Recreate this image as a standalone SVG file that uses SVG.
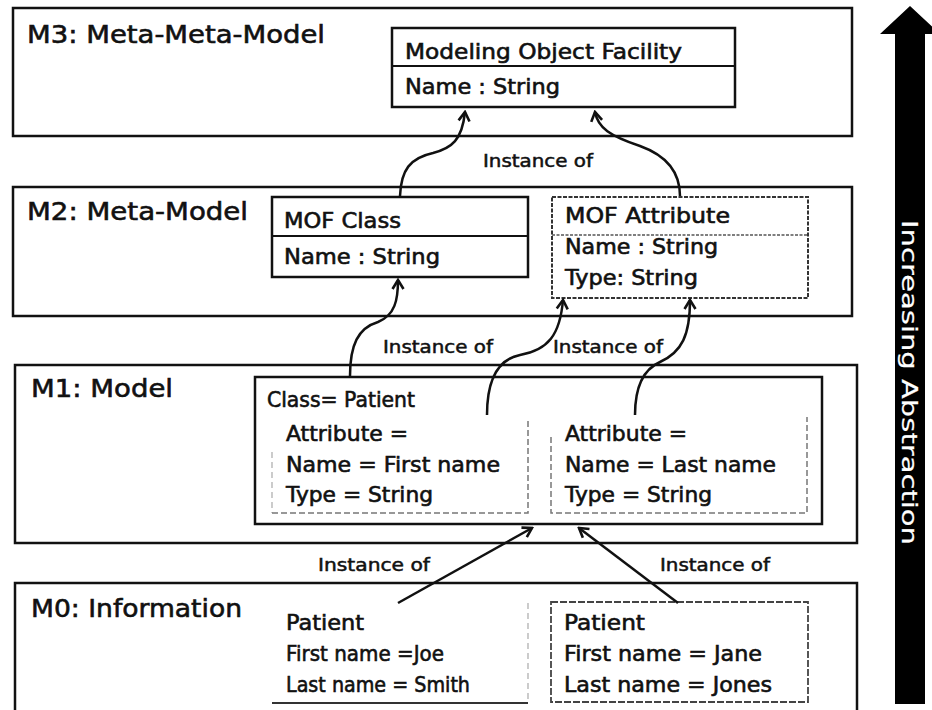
<svg xmlns="http://www.w3.org/2000/svg" width="932" height="710" viewBox="0 0 932 710">
<style>
  .layer{fill:none;stroke:#111;stroke-width:2.5}
  .box{fill:#fff;stroke:#111;stroke-width:2.5}
  .dbox{fill:#fff;stroke:#333;stroke-width:2;stroke-dasharray:4 1.5}
  .faint{fill:none;stroke:#777;stroke-width:1.5;stroke-dasharray:6 3}
  .fainter{fill:none;stroke:#aaa;stroke-width:1.2;stroke-dasharray:6 4}
  .conn{fill:none;stroke:#111;stroke-width:2.5}
  text{font-family:"DejaVu Sans","Liberation Sans",sans-serif;fill:#111;stroke:#111;stroke-width:0.6}
  .lbl{font-size:25px}
  .t{font-size:20.5px}
  .inst{font-size:17px;stroke-width:0.5}
  .side{font-size:22px;fill:#fff;stroke:#fff;stroke-width:0.2}
</style>
<defs>
  <marker id="ah" viewBox="-12 -8 14 16" refX="0" refY="0" markerWidth="14" markerHeight="16" markerUnits="userSpaceOnUse" orient="auto">
    <path d="M-9,-5.5 L0,0 L-9,5.5" fill="none" stroke="#111" stroke-width="2.6"/>
  </marker>
</defs>
<rect width="932" height="710" fill="#fff"/>

<g id="M3">
  <rect class="layer" x="13" y="8" width="839" height="128"/>
  <text class="lbl" x="27" y="43" textLength="298" lengthAdjust="spacingAndGlyphs">M3: Meta-Meta-Model</text>
</g>
<g id="MOF">
  <rect class="box" x="392" y="28" width="343" height="79"/>
  <line x1="392" y1="66" x2="735" y2="66" stroke="#111" stroke-width="2"/>
  <text class="t" x="405" y="59" textLength="277" lengthAdjust="spacingAndGlyphs">Modeling Object Facility</text>
  <text class="t" x="405" y="94" textLength="155" lengthAdjust="spacingAndGlyphs">Name : String</text>
</g>

<g id="M2">
  <rect class="layer" x="13" y="187" width="839" height="129"/>
  <text class="lbl" x="27" y="220" textLength="221" lengthAdjust="spacingAndGlyphs">M2: Meta-Model</text>
</g>
<g id="MOFClass">
  <rect class="box" x="272" y="197" width="256" height="80" stroke-width="3"/>
  <line x1="272" y1="236" x2="528" y2="236" stroke="#111" stroke-width="2"/>
  <text class="t" x="284" y="228" textLength="117" lengthAdjust="spacingAndGlyphs">MOF Class</text>
  <text class="t" x="284" y="264" textLength="156" lengthAdjust="spacingAndGlyphs">Name : String</text>
</g>
<g id="MOFAttribute">
  <rect class="dbox" x="552" y="197" width="256" height="101"/>
  <line x1="552" y1="235" x2="808" y2="235" stroke="#555" stroke-width="1.5" stroke-dasharray="3 1.5"/>
  <text class="t" x="565" y="223" textLength="165" lengthAdjust="spacingAndGlyphs">MOF Attribute</text>
  <text class="t" x="565" y="254" textLength="153" lengthAdjust="spacingAndGlyphs">Name : String</text>
  <text class="t" x="565" y="285" textLength="133" lengthAdjust="spacingAndGlyphs">Type: String</text>
</g>

<g id="M1">
  <rect class="layer" x="15" y="365" width="842" height="178"/>
  <text class="lbl" x="31" y="397" textLength="142" lengthAdjust="spacingAndGlyphs">M1: Model</text>
</g>
<g id="ClassPatient">
  <rect class="box" x="255" y="377" width="567" height="147" stroke-width="3"/>
  <text class="t" x="267" y="407" textLength="148" lengthAdjust="spacingAndGlyphs">Class= Patient</text>
  <polyline class="fainter" points="272,452 272,513"/>
  <polyline class="faint" points="272,513 528,513 528,418"/>
  <polyline class="faint" points="551,437 551,513 807,513 807,417"/>
  <text class="t" x="286" y="441" textLength="122" lengthAdjust="spacingAndGlyphs">Attribute =</text>
  <text class="t" x="286" y="472" textLength="214" lengthAdjust="spacingAndGlyphs">Name = First name</text>
  <text class="t" x="286" y="502" textLength="147" lengthAdjust="spacingAndGlyphs">Type = String</text>
  <text class="t" x="565" y="441" textLength="122" lengthAdjust="spacingAndGlyphs">Attribute =</text>
  <text class="t" x="565" y="472" textLength="211" lengthAdjust="spacingAndGlyphs">Name = Last name</text>
  <text class="t" x="565" y="502" textLength="147" lengthAdjust="spacingAndGlyphs">Type = String</text>
</g>

<g id="M0">
  <rect class="layer" x="15" y="583" width="842" height="135"/>
  <text class="lbl" x="31" y="617" textLength="211" lengthAdjust="spacingAndGlyphs">M0: Information</text>
</g>
<g id="PatientJoe">
  <line x1="272" y1="703" x2="528" y2="703" stroke="#333" stroke-width="2"/>
  <line class="fainter" x1="528" y1="603" x2="528" y2="700"/>
  <text class="t" x="286" y="630" textLength="78" lengthAdjust="spacingAndGlyphs">Patient</text>
  <text class="t" x="286" y="661" textLength="158" lengthAdjust="spacingAndGlyphs">First name =Joe</text>
  <text class="t" x="286" y="692" textLength="184" lengthAdjust="spacingAndGlyphs">Last name = Smith</text>
</g>
<g id="PatientJane">
  <rect x="551" y="602" width="257" height="100" fill="none" stroke="#444" stroke-width="1.8" stroke-dasharray="7 2"/>
  <text class="t" x="564" y="630" textLength="81" lengthAdjust="spacingAndGlyphs">Patient</text>
  <text class="t" x="564" y="661" textLength="198" lengthAdjust="spacingAndGlyphs">First name = Jane</text>
  <text class="t" x="564" y="692" textLength="208" lengthAdjust="spacingAndGlyphs">Last name = Jones</text>
</g>

<g id="connectors">
  <path class="conn" marker-end="url(#ah)" d="M400,196 C401,170 410,158 433,153 C452,148 462,140 465,112"/>
  <path class="conn" marker-end="url(#ah)" d="M680,196 C680,170 665,155 640,146 C610,136 598,128 595,112"/>
  <path class="conn" marker-end="url(#ah)" d="M350,376 C350,345 358,328 378,322 C395,315 398,300 398,280"/>
  <path class="conn" marker-end="url(#ah)" d="M487,415 C487,385 495,360 520,355 C548,350 560,335 563,300"/>
  <path class="conn" marker-end="url(#ah)" d="M635,415 C635,390 642,370 660,362 C682,352 690,335 690,300"/>
  <path class="conn" marker-end="url(#ah)" d="M398,603 L532,528"/>
  <path class="conn" marker-end="url(#ah)" d="M678,603 L579,528"/>
  <text class="inst" x="483" y="167" textLength="110" lengthAdjust="spacingAndGlyphs">Instance of</text>
  <text class="inst" x="383" y="353" textLength="110" lengthAdjust="spacingAndGlyphs">Instance of</text>
  <text class="inst" x="553" y="353" textLength="110" lengthAdjust="spacingAndGlyphs">Instance of</text>
  <text class="inst" x="318" y="571" textLength="112" lengthAdjust="spacingAndGlyphs">Instance of</text>
  <text class="inst" x="660" y="571" textLength="110" lengthAdjust="spacingAndGlyphs">Instance of</text>
</g>

<g id="abstraction-arrow">
  <polygon points="910,6 880,34 895,34 895,704 925,704 925,34 940,34" fill="#000"/>
  <text class="side" transform="translate(902,220) rotate(90)" x="0" y="0" textLength="325" lengthAdjust="spacingAndGlyphs">Increasing Abstraction</text>
</g>
</svg>
